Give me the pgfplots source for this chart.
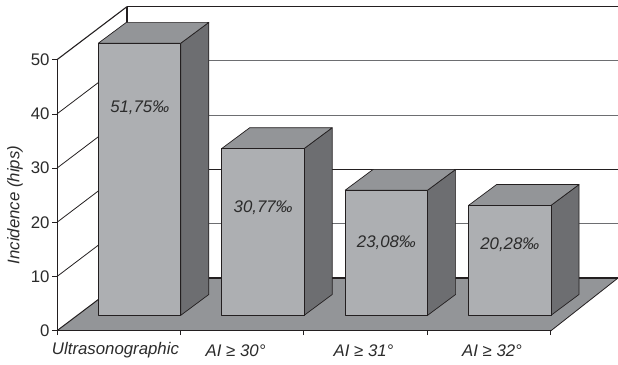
\documentclass[border=0pt]{standalone}
\usepackage{fontspec}
\setmainfont{Liberation Sans}
\usepackage{pgfplots}
\pgfplotsset{compat=1.18}

\definecolor{frontface}{HTML}{ADAFB2}
\definecolor{topface}{HTML}{939598}
\definecolor{sideface}{HTML}{6D6E71}
\definecolor{inkline}{HTML}{231F20}
\definecolor{gridgray}{HTML}{6D6E71}
\definecolor{labelink}{HTML}{2B2B2B}

% Oblique box on the floor: #1 category index, #2 value.
% Depth of a bar is 0.227 x-units and 3.84 y-units; the base sits 2.84 above the
% axis zero, and the height is cut off at the top of the value scale.
\newcommand{\obliqueBar}[2]{%
  \addplot[fill=sideface,draw=inkline,line width=0.7pt,line join=round] coordinates {
    ({#1+1.003},2.84) ({#1+1.230},6.68)
    ({#1+1.230},{6.68+min(#2,50.2)}) ({#1+1.003},{2.84+min(#2,50.2)})} -- cycle;
  \addplot[fill=topface,draw=inkline,line width=0.7pt,line join=round] coordinates {
    ({#1+0.335},{2.84+min(#2,50.2)}) ({#1+1.003},{2.84+min(#2,50.2)})
    ({#1+1.230},{6.68+min(#2,50.2)}) ({#1+0.562},{6.68+min(#2,50.2)})} -- cycle;
  \addplot[fill=frontface,draw=inkline,line width=0.7pt,line join=round] coordinates {
    ({#1+0.335},2.84) ({#1+1.003},2.84)
    ({#1+1.003},{2.84+min(#2,50.2)}) ({#1+0.335},{2.84+min(#2,50.2)})} -- cycle;
}

\begin{document}
\begin{tikzpicture}
\useasboundingbox (-57pt,-33.3pt) rectangle (561pt,330.7pt);
\begin{axis}[
  scale only axis, width=561pt, height=330.7pt,
  xmin=0, xmax=4.546, ymin=0, ymax=61.01,
  clip=false,
  axis x line*=bottom, axis y line*=left,
  axis line style={draw=none},
  xtick={0,1,2,3,4}, xticklabels={},
  ytick={0,10,20,30,40,50},
  tick align=outside,
  major tick length=4.5pt,
  tick style={draw=inkline,line width=0.7pt},
  /pgf/number format/assume math mode=true,
  yticklabel style={font=\fontsize{16.8}{18}\selectfont,text=labelink,xshift=0.5pt},
]
% back wall: gridlines and frame
\addplot[gridgray,line width=1pt] coordinates {(0.567,19.78) (4.546,19.78)};
\addplot[gridgray,line width=1pt] coordinates {(0.567,39.78) (4.546,39.78)};
\addplot[gridgray,line width=1.1pt] coordinates {(0.567,49.78) (4.546,49.78)};
\addplot[inkline,line width=0.8pt] coordinates {(0.567,29.78) (4.546,29.78)};
\addplot[inkline,line width=1.4pt] coordinates {(0.567,59.78) (4.546,59.78)};
\addplot[inkline,line width=1.2pt] coordinates {(0.567,9.78) (0.567,59.78)};
% side wall: spine and oblique gridlines
\addplot[inkline,line width=0.8pt] coordinates {(0,10) (0.567,19.78)};
\addplot[inkline,line width=0.8pt] coordinates {(0,20) (0.567,29.78)};
\addplot[inkline,line width=0.8pt] coordinates {(0,30) (0.567,39.78)};
\addplot[inkline,line width=0.8pt] coordinates {(0,40) (0.567,49.78)};
\addplot[inkline,line width=1.1pt] coordinates {(0,50) (0.567,59.78)};
\addplot[inkline,line width=0.9pt] coordinates {(0,0) (0,50)};
% floor
\addplot[fill=topface,draw=none] coordinates {(0,0) (4.003,0) (4.546,9.72) (0.567,9.72)} -- cycle;
\addplot[inkline,line width=0.8pt] coordinates {(4.003,0) (4.546,9.72)};
\addplot[inkline,line width=1.4pt] coordinates {(0.567,9.75) (4.546,9.75)};
\addplot[inkline,line width=1pt] coordinates {(0,0) (0.567,9.75)};
\addplot[inkline,line width=1.4pt] coordinates {(0,0) (4.003,0)};
% bars, back to front in paint order
\obliqueBar{0}{51.75}
\obliqueBar{1}{30.77}
\obliqueBar{2}{23.08}
\obliqueBar{3}{20.28}
% values on the bars
\begin{scope}[every node/.style={font=\fontsize{16.8}{18}\selectfont\itshape,text=labelink,inner sep=0pt}]
\node at (axis cs:0.670,41.05) {51,75‰};
\node at (axis cs:1.670,22.6) {30,77‰};
\node at (axis cs:2.669,16.15) {23,08‰};
\node at (axis cs:3.669,15.8) {20,28‰};
% category names under the ticks
\node at (axis cs:0.474,-3.65) {Ultrasonographic};
\node at (axis cs:1.447,-3.65) {AI ≥ 30°};
\node at (axis cs:2.484,-3.65) {AI ≥ 31°};
\node at (axis cs:3.525,-3.65) {AI ≥ 32°};
\node[rotate=90] at (axis cs:-0.341,23.2) {Incidence (hips)};
\end{scope}
\end{axis}
\end{tikzpicture}
\end{document}
